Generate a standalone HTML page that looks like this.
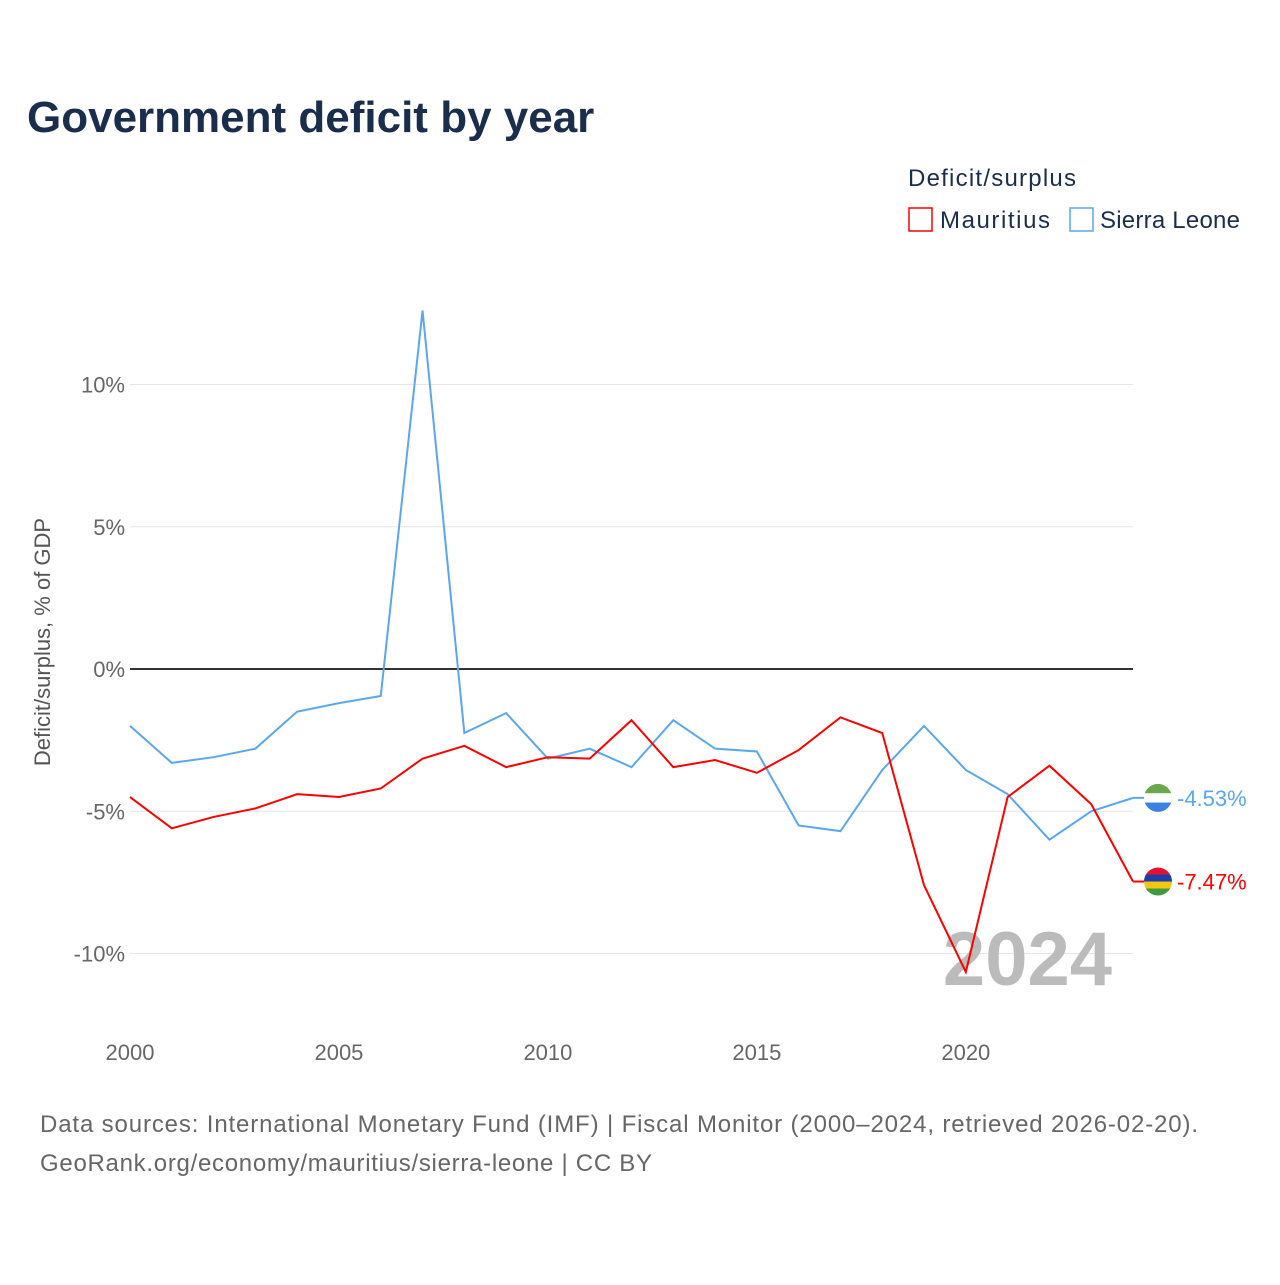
<!DOCTYPE html>
<html><head><meta charset="utf-8"><style>
body{margin:0;width:1280px;height:1280px;background:#fff;font-family:"Liberation Sans",sans-serif;overflow:hidden}
</style></head><body>
<svg width="1280" height="1280" xmlns="http://www.w3.org/2000/svg" id="svg">
<defs>
<clipPath id="cSL"><circle cx="1158" cy="0" r="14"/></clipPath>
</defs>
<text x="27" y="132" font-size="44" font-weight="bold" fill="#1a2e4c">Government deficit by year</text>
<text x="908" y="186" font-size="24" fill="#1a2e4c" textLength="168">Deficit/surplus</text>
<g><rect x="909" y="208" width="23" height="23" fill="none" stroke="#ff0000" stroke-width="1.5"/><text x="940" y="228" font-size="24" fill="#1a2e4c" textLength="110">Mauritius</text></g>
<g><rect x="1070" y="208" width="23" height="23" fill="none" stroke="#5aa7ec" stroke-width="1.5"/><text x="1100" y="228" font-size="24" fill="#1a2e4c" textLength="140">Sierra Leone</text></g>
<text transform="translate(50,642) rotate(-90)" text-anchor="middle" font-size="22" fill="#555">Deficit/surplus, % of GDP</text>
<g id="grid"></g><g id="xt"></g>
<text x="1112" y="985" text-anchor="end" font-size="76" font-weight="bold" fill="#bbb">2024</text>
<g id="lines"></g>
<text x="40" y="1132" font-size="24" fill="#666" textLength="1158">Data sources: International Monetary Fund (IMF) | Fiscal Monitor (2000–2024, retrieved 2026-02-20).</text>
<text x="40" y="1171" font-size="24" fill="#666" textLength="612">GeoRank.org/economy/mauritius/sierra-leone | CC BY</text>
</svg>
<script>
const years=[2000,2001,2002,2003,2004,2005,2006,2007,2008,2009,2010,2011,2012,2013,2014,2015,2016,2017,2018,2019,2020,2021,2022,2023,2024];
const mauritius=[-4.5,-5.6,-5.2,-4.9,-4.4,-4.5,-4.2,-3.15,-2.7,-3.45,-3.1,-3.15,-1.8,-3.45,-3.2,-3.65,-2.85,-1.7,-2.25,-7.6,-10.65,-4.5,-3.4,-4.75,-7.47];
const sierraLeone=[-2.0,-3.3,-3.1,-2.8,-1.5,-1.2,-0.95,12.6,-2.25,-1.55,-3.15,-2.8,-3.45,-1.8,-2.8,-2.9,-5.5,-5.7,-3.55,-2.0,-3.55,-4.4,-6.0,-5.0,-4.53];
const yTicks=[10,5,0,-5,-10];
const xTicks=[2000,2005,2010,2015,2020];
const ns="http://www.w3.org/2000/svg";
const X=y=>130+(y-2000)*(1003/24);
const Y=v=>669-v*28.45;
function mk(t,a,p){const e=document.createElementNS(ns,t);for(const k in a)e.setAttribute(k,a[k]);p.appendChild(e);return e;}
const g=document.getElementById('grid');
yTicks.forEach(v=>{
const l=mk('line',{x1:130,x2:1133,y1:Y(v),y2:Y(v),stroke:v===0?'#333':'#e6e6e6','stroke-width':v===0?2:1},g);


const t=mk('text',{x:125,y:Y(v)+8,'text-anchor':'end','font-size':22,fill:'#666'},g);
t.textContent=v+'%';


});
const xt=document.getElementById('xt');
xTicks.forEach(y=>{
const t=mk('text',{x:X(y),y:1060,'text-anchor':'middle','font-size':22,fill:'#666'},xt);
t.textContent=y;


});
const L=document.getElementById('lines');
const defs=document.querySelector('defs');
function series(vals,col,name,stripes){
const p=mk('polyline',{points:vals.map((v,i)=>X(years[i])+','+Y(v)).join(' '),fill:'none',stroke:col,'stroke-width':2},L);


const last=vals[vals.length-1];
const xe=X(years[years.length-1]);
const cy=Y(last);
const ln=mk('line',{x1:xe,x2:xe+12,y1:cy,y2:cy,stroke:col,'stroke-width':2},L);


const cp=mk('clipPath',{id:'clip-'+name},defs);
mk('circle',{cx:xe+25,cy:cy,r:14},cp);
const fg=mk('g',{'clip-path':'url(#clip-'+name+')'},L);


const h=28/stripes.length;
stripes.forEach((c,i)=>mk('rect',{x:xe+11,y:cy-14+i*h,width:28,height:h+0.5,fill:c},fg));
const t=mk('text',{x:xe+44,y:cy+8,'font-size':22,fill:col},L);
t.textContent=last.toFixed(2)+'%';


}
series(sierraLeone,'#5aa7ec','sierra-leone',['#6aa84f','#ffffff','#3b82e0']);
series(mauritius,'#ff0000','mauritius',['#e8112d','#1a3fa8','#f5c518','#3d9a3d']);
</script>
</body></html>
